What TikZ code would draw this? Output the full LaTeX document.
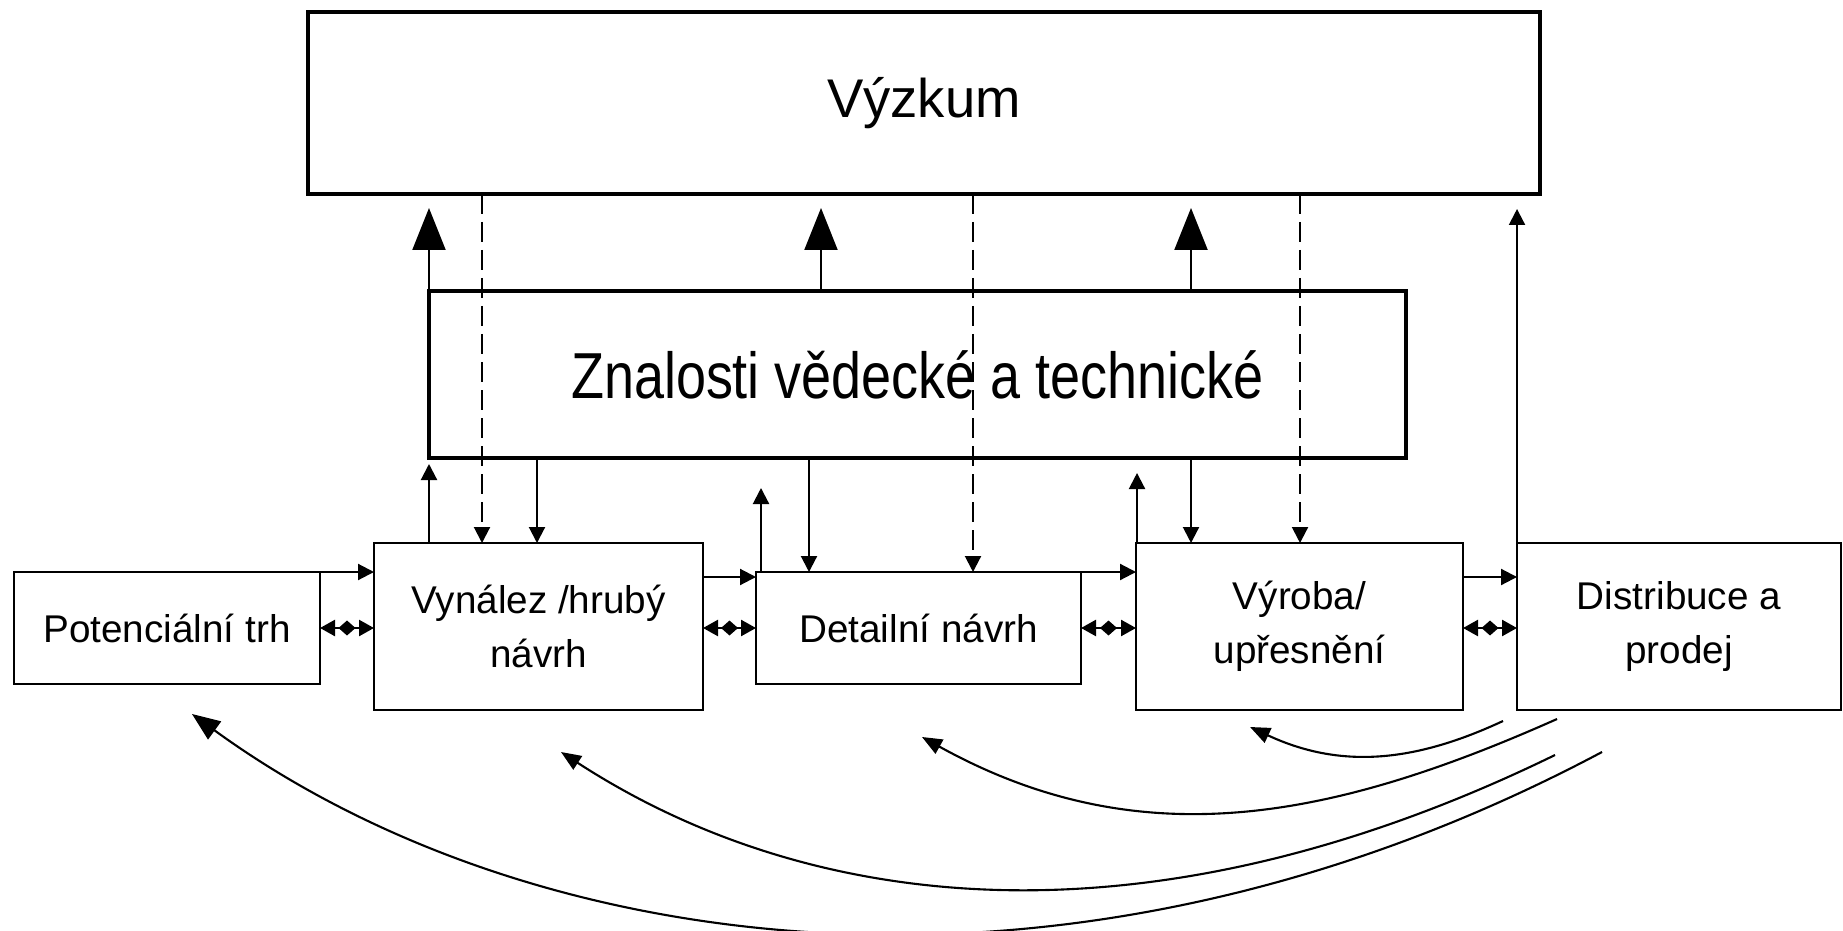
\documentclass[tikz,border=0pt]{standalone}
\usepackage{fontspec}
\setmainfont{Liberation Sans}
\newfontfamily\narrowsans{Liberation Sans}[FakeStretch=0.83]
\usetikzlibrary{arrows.meta,shapes.geometric,calc}

\tikzset{
  bigbox/.style={draw, line width=1.2pt, inner sep=0pt, outer sep=0pt},
  box/.style={draw, line width=0.6pt, inner sep=0pt, outer sep=0pt, align=center,
    font=\fontsize{11}{15.5}\selectfont},
  arr/.style={line width=0.6pt, -{Triangle[length=1.6mm,width=1.6mm]}},
  bigarr/.style={line width=0.6pt, -{Triangle[length=4.2mm,width=3.3mm]}},
  dashline/.style={arr, dash pattern=on 2mm off 0.8mm},
  dbl/.style={line width=0.7pt, {Triangle[length=1.5mm,width=1.6mm]}-{Triangle[length=1.5mm,width=1.6mm]}},
  dia/.style={diamond, fill, inner sep=0pt, minimum width=1.8mm, minimum height=1.6mm},
  back/.style={line width=0.6pt, -{Triangle[length=2mm,width=1.6mm]}}
}

\begin{document}
\begin{tikzpicture}
        \useasboundingbox (0,0) rectangle (18.43,-9.30);

        % Upper boxes
        \node[bigbox, minimum width=12.32cm, minimum height=1.82cm, font=\fontsize{15.5}{18}\selectfont] (vyzkum) at (9.24,-1.03) {Výzkum};
        \node[bigbox, minimum width=9.77cm, minimum height=1.67cm, font=\narrowsans\fontsize{18.5}{22}\selectfont] (znalosti) at (9.175,-3.745) {Znalosti vědecké a technické};

        % Process boxes
        \node[box, minimum width=3.06cm, minimum height=1.12cm] (trh) at (1.67,-6.28) {Potenciální trh};
        \node[box, minimum width=3.29cm, minimum height=1.67cm] (vynalez) at (5.385,-6.265) {Vynález /hrubý\\návrh};
        \node[box, minimum width=3.25cm, minimum height=1.12cm] (detail) at (9.185,-6.28) {Detailní návrh};
        \node[box, minimum width=3.27cm, minimum height=1.67cm] (vyroba) at (12.995,-6.265) {Výroba/\\upřesnění};
        \node[box, minimum width=3.24cm, minimum height=1.67cm] (distribuce) at (16.79,-6.265) {Distribuce a\\prodej};

        % Columns of the vertical arrows
        \coordinate (c1) at (4.29,0);
        \coordinate (c2) at (4.82,0);
        \coordinate (c3) at (5.37,0);
        \coordinate (c4) at (7.61,0);
        \coordinate (c5) at (8.09,0);
        \coordinate (c6) at (8.21,0);
        \coordinate (c7) at (9.73,0);
        \coordinate (c8) at (11.37,0);
        \coordinate (c9) at (11.91,0);
        \coordinate (c10) at (13.00,0);

        % Knowledge feeds research
        \draw[bigarr, shorten >=0.14cm] (znalosti.north -| c1) -- (vyzkum.south -| c1);
        \draw[bigarr, shorten >=0.14cm] (znalosti.north -| c6) -- (vyzkum.south -| c6);
        \draw[bigarr, shorten >=0.14cm] (znalosti.north -| c9) -- (vyzkum.south -| c9);

        % Process steps feed knowledge
        \draw[arr, shorten >=0.06cm] (vynalez.north -| c1) -- (znalosti.south -| c1);
        \draw[arr, shorten >=0.30cm] (detail.north -| c4) -- (znalosti.south -| c4);
        \draw[arr, shorten >=0.15cm] (vyroba.north -| c8) -- (znalosti.south -| c8);
        \draw[arr, shorten >=0.15cm] (distribuce.north west) -- (distribuce.north west |- vyzkum.south);

        % Knowledge used in the steps
        \draw[arr] (znalosti.south -| c3) -- (vynalez.north -| c3);
        \draw[arr] (znalosti.south -| c5) -- (detail.north -| c5);
        \draw[arr] (znalosti.south -| c9) -- (vyroba.north -| c9);

        % Research used in the steps (dashed)
        \draw[dashline] (vyzkum.south -| c2) -- (vynalez.north -| c2);
        \draw[dashline] (vyzkum.south -| c7) -- (detail.north -| c7);
        \draw[dashline] (vyzkum.south -| c10) -- (vyroba.north -| c10);

        % Main chain
        \draw[arr] (trh.north east) -- (trh.north east -| vynalez.west);
        \draw[arr] ($(vynalez.east |- detail.north)+(0,-0.05)$) -- ($(detail.north west)+(0,-0.05)$);
        \draw[arr] (detail.north east) -- (detail.north east -| vyroba.west);
        \draw[arr] ($(vyroba.east |- detail.north)+(0,-0.05)$) -- ($(distribuce.west |- detail.north)+(0,-0.05)$);

        % Two way links
        \draw[dbl] (trh.east) -- (trh.east -| vynalez.west) node[dia, midway] (m1) {};
        \draw[dbl] (vynalez.east |- trh.east) -- (detail.west) node[dia, midway] (m2) {};
        \draw[dbl] (detail.east) -- (detail.east -| vyroba.west) node[dia, midway] (m3) {};
        \draw[dbl] (vyroba.east |- trh.east) -- (distribuce.west |- trh.east) node[dia, midway] (m4) {};

        % Feedback from the market
        \coordinate (s1) at (15.03,-7.21);
        \coordinate (s2) at (15.57,-7.19);
        \coordinate (s3) at (15.55,-7.55);
        \coordinate (s4) at (16.02,-7.52);
        \coordinate (t1) at (12.50,-7.27);
        \coordinate (t2) at (9.22,-7.37);
        \coordinate (t3) at (5.61,-7.52);
        \coordinate (t4) at (1.92,-7.14);
        \draw[back] (s1) to[out=205, in=-25] (t1);
        \draw[back] (s2) to[out=204, in=-29] (t2);
        \draw[back] (s3) .. controls +(206:4.5) and +(-33:3) .. (t3);
        \draw[line width=0.6pt, -{Triangle[length=2.8mm,width=2.2mm]}] (s4) .. controls +(208:6) and +(-36:4.2) .. (t4);
    \end{tikzpicture}
\end{document}
